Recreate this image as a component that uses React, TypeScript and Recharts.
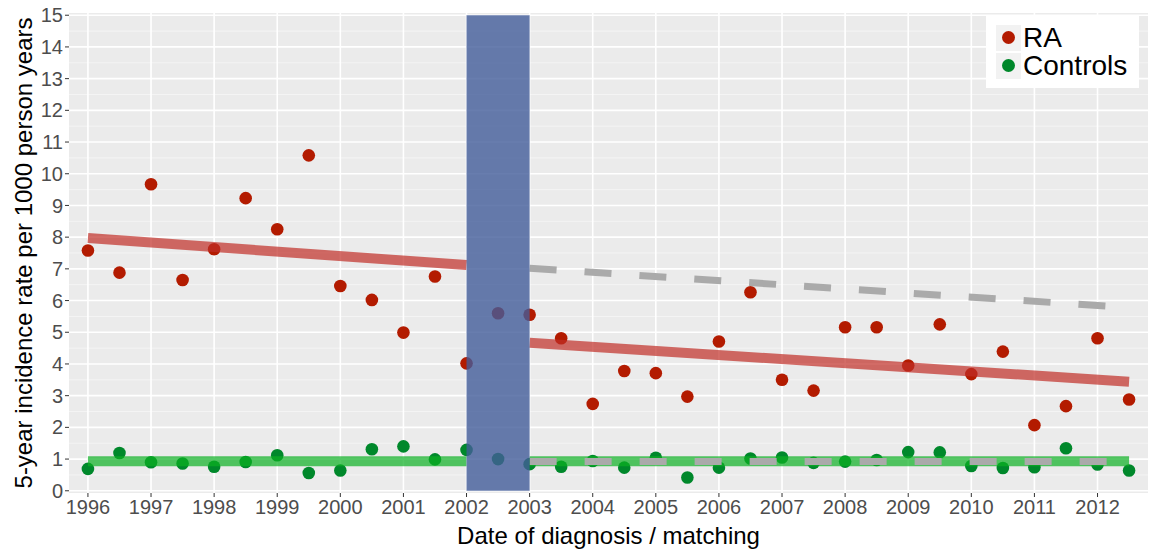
import { ComposedChart, Scatter, XAxis, YAxis, CartesianGrid, ReferenceLine, ReferenceArea, Label } from 'recharts';

// half-year diagnosis / matching dates
const dates = [
  1996, 1996.5, 1997, 1997.5, 1998, 1998.5, 1999, 1999.5, 2000, 2000.5, 2001, 2001.5,
  2002, 2002.5, 2003, 2003.5, 2004, 2004.5, 2005, 2005.5, 2006, 2006.5, 2007, 2007.5,
  2008, 2008.5, 2009, 2009.5, 2010, 2010.5, 2011, 2011.5, 2012, 2012.5,
];

// 5-year incidence rate per 1000 person years
const raRates = [
  7.58, 6.88, 9.67, 6.65, 7.62, 9.23, 8.25, 10.58, 6.46, 6.02, 4.99, 6.76,
  4.02, 5.6, 5.55, 4.81, 2.74, 3.78, 3.71, 2.97, 4.71, 6.26, 3.5, 3.16,
  5.16, 5.16, 3.95, 5.25, 3.68, 4.39, 2.07, 2.67, 4.81, 2.88,
];
const controlRates = [
  0.69, 1.19, 0.9, 0.86, 0.76, 0.91, 1.12, 0.56, 0.64, 1.31, 1.4, 0.99,
  1.29, 1.0, 0.84, 0.76, 0.94, 0.73, 1.04, 0.42, 0.73, 1.02, 1.05, 0.88,
  0.92, 0.97, 1.22, 1.21, 0.78, 0.72, 0.74, 1.34, 0.83, 0.64,
];

// fitted trends (start / end)
const raTrendPre = [{ x: 1996, y: 7.97 }, { x: 2002, y: 7.12 }];
const raTrendPost = [{ x: 2003, y: 4.67 }, { x: 2012.5, y: 3.44 }];
const raExpected = [{ x: 2003, y: 7.02 }, { x: 2012.5, y: 5.78 }];
const ctrlTrendPre = [{ x: 1996, y: 0.93 }, { x: 2002, y: 0.93 }];
const ctrlTrendPost = [{ x: 2003, y: 0.93 }, { x: 2012.5, y: 0.93 }];
const ctrlExpected = [{ x: 2003, y: 0.92 }, { x: 2012.5, y: 0.92 }];

const gapPeriod = [2002, 2003];

const xTicks = [1996, 1997, 1998, 1999, 2000, 2001, 2002, 2003, 2004, 2005, 2006, 2007, 2008, 2009, 2010, 2011, 2012];
const yTicks = [0, 1, 2, 3, 4, 5, 6, 7, 8, 9, 10, 11, 12, 13, 14, 15];
const yMinor = [0.5, 1.5, 2.5, 3.5, 4.5, 5.5, 6.5, 7.5, 8.5, 9.5, 10.5, 11.5, 12.5, 13.5, 14.5];

const raData = dates.map((x, i) => ({ x, y: raRates[i] }));
const ctrlData = dates.map((x, i) => ({ x, y: controlRates[i] }));

const RED = '#b31b00';
const GREEN = '#00882b';
const FONT = '"Liberation Sans", Arial, sans-serif';

const dot = (color: string) => (props: any) => (
  <circle cx={props.cx} cy={props.cy} r={6.3} fill={color} />
);

export default function App() {
  return (
    <div style={{ position: 'absolute', left: 0, top: 0, width: 1149, height: 552, background: '#fff', fontFamily: FONT }}>
      <ComposedChart width={1149} height={552} margin={{ top: 13, right: 1, left: 0, bottom: 0 }}>
        <CartesianGrid fill="#ebebeb" stroke="#f6f6f6" strokeWidth={0.8} vertical={false} horizontalValues={yMinor} />
        <CartesianGrid fill="none" stroke="#ffffff" strokeWidth={1.6} horizontalValues={yTicks} verticalValues={xTicks} />
        <XAxis
          type="number"
          dataKey="x"
          domain={[1995.7, 2012.8]}
          ticks={xTicks}
          allowDataOverflow
          height={59}
          tickSize={4}
          tickMargin={3}
          axisLine={false}
          tickLine={{ stroke: '#333333' }}
          tick={{ fill: '#4d4d4d', fontSize: 20, fontFamily: FONT }}
        >
          <Label value="Date of diagnosis / matching" position="insideBottom" offset={8} fill="#000" fontSize={24} fontFamily={FONT} />
        </XAxis>
        <YAxis
          type="number"
          dataKey="y"
          domain={[-0.07, 15.07]}
          ticks={yTicks}
          allowDataOverflow
          width={69}
          tickSize={4}
          tickMargin={2}
          axisLine={false}
          tickLine={{ stroke: '#333333' }}
          tick={{ fill: '#4d4d4d', fontSize: 20, fontFamily: FONT }}
        >
          <Label value="5-year incidence rate per 1000 person years" angle={-90} position="insideLeft" offset={23} fill="#000" fontSize={24} fontFamily={FONT} style={{ textAnchor: 'middle' }} />
        </YAxis>

        <Scatter data={raData} dataKey="y" shape={dot(RED)} isAnimationActive={false} zIndex={50} />
        <Scatter data={ctrlData} dataKey="y" shape={dot(GREEN)} isAnimationActive={false} zIndex={50} />

        <ReferenceLine segment={raTrendPre} stroke="#c02d26" strokeOpacity={0.7} strokeWidth={10} zIndex={700} />
        <ReferenceLine segment={raTrendPost} stroke="#c02d26" strokeOpacity={0.7} strokeWidth={10} zIndex={700} />
        <ReferenceLine segment={ctrlTrendPre} stroke="#0bb022" strokeOpacity={0.7} strokeWidth={10} zIndex={700} />
        <ReferenceLine segment={ctrlTrendPost} stroke="#0bb022" strokeOpacity={0.7} strokeWidth={10} zIndex={700} />
        <ReferenceLine segment={raExpected} stroke="#aaaaaa" strokeWidth={7} strokeDasharray="27 28" zIndex={710} />
        <ReferenceLine segment={ctrlExpected} stroke="#aaaaaa" strokeWidth={7} strokeDasharray="27 28" zIndex={710} />

        <ReferenceArea x1={gapPeriod[0]} x2={gapPeriod[1]} y1={0} y2={15} fill="#425c9a" fillOpacity={0.8} stroke="none" zIndex={800} />
      </ComposedChart>

      <div style={{ position: 'absolute', left: 986, top: 15, width: 153, height: 73, background: '#fff' }}>
        {[
          { name: 'RA', color: RED },
          { name: 'Controls', color: GREEN },
        ].map((item, i) => (
          <div key={item.name} style={{ position: 'absolute', left: 10, top: 9 + i * 28, height: 27, display: 'flex', alignItems: 'center' }}>
            <div style={{ width: 25, height: 26, background: '#f2f2f2', display: 'flex', alignItems: 'center', justifyContent: 'center' }}>
              <div style={{ width: 13, height: 13, borderRadius: '50%', background: item.color }} />
            </div>
            <span style={{ marginLeft: 2, fontSize: 28, lineHeight: '27px', color: '#000' }}>{item.name}</span>
          </div>
        ))}
      </div>
    </div>
  );
}
